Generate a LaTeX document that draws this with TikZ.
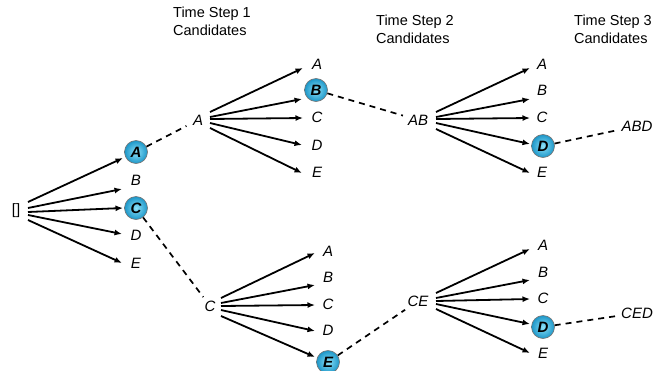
\documentclass[tikz,border=0pt]{standalone}
\usepackage{fontspec}
\setmainfont{Liberation Sans}
\usetikzlibrary{arrows.meta}
\definecolor{pickin}{RGB}{140,225,248}
\definecolor{pickout}{RGB}{28,150,200}
\tikzset{
  cand/.style={inner sep=1pt,font=\fontsize{15}{17}\selectfont\itshape},
  pick/.style={circle,draw=black!55,line width=0.6pt,inner color=pickin,outer color=pickout,
               minimum size=23pt,inner sep=0pt,font=\fontsize{15}{17}\selectfont\bfseries\itshape},
  hdr/.style={align=left,font=\fontsize{14.5}{18}\selectfont},
  fan/.style={-{Latex[length=7.5pt,width=6pt]},line width=1.8pt},
  trail/.style={line width=1.7pt,dash pattern=on 6pt off 5pt}
}

\begin{document}
\begin{tikzpicture}[x=1pt,y=-1pt]
   \useasboundingbox (0,0) rectangle (653,370);
   % headers
   \node[hdr] (h1) at (212,21) {Time Step 1\\Candidates};
   \node[hdr] (h2) at (415,29) {Time Step 2\\Candidates};
   \node[hdr] (h3) at (613,29) {Time Step 3\\Candidates};
   % root and first step
   \node[inner sep=1pt,font=\fontsize{15}{17}\selectfont] (r) at (16,211) {[]};
   \node[pick] (a1) at (136,152) {A};
   \node[cand] (b1) at (136,180) {B};
   \node[pick] (c1) at (136,208) {C};
   \node[cand] (d1) at (136,235) {D};
   \node[cand] (e1) at (136,263) {E};
   % upper branch
   \node[cand] (pA) at (198,120) {A};
   \node[cand] (a2) at (317,64) {A};
   \node[pick] (b2) at (316,90) {B};
   \node[cand] (c2) at (317,117) {C};
   \node[cand] (d2) at (317,145) {D};
   \node[cand] (e2) at (317,172) {E};
   \node[cand] (pAB) at (418,120) {AB};
   \node[cand] (a3) at (542,64) {A};
   \node[cand] (b3) at (542,90) {B};
   \node[cand] (c3) at (542,117) {C};
   \node[pick] (d3) at (543,146) {D};
   \node[cand] (e3) at (542,172) {E};
   \node[cand] (pABD) at (637,126) {ABD};
   % lower branch
   \node[cand] (pC) at (210,306) {C};
   \node[cand] (a4) at (328,251) {A};
   \node[cand] (b4) at (328,277) {B};
   \node[cand] (c4) at (328,304) {C};
   \node[cand] (d4) at (328,330) {D};
   \node[pick] (e4) at (328,362) {E};
   \node[cand] (pCE) at (418,301) {CE};
   \node[cand] (a5) at (543,245) {A};
   \node[cand] (b5) at (543,272) {B};
   \node[cand] (c5) at (543,298) {C};
   \node[pick] (d5) at (543,327) {D};
   \node[cand] (e5) at (543,353) {E};
   \node[cand] (pCED) at (637,313) {CED};
   % fans
   \path[fan] ([shift={(12,-9)}]r.center) edge ([shift={(-13,6)}]a1.center)
              ([shift={(12,-3)}]r.center) edge ([shift={(-14,9)}]b1.center)
              ([shift={(12,1)}]r.center) edge ([shift={(-13,0)}]c1.center)
              ([shift={(12,4)}]r.center) edge ([shift={(-14,-1)}]d1.center)
              ([shift={(12,9)}]r.center) edge ([shift={(-14,0)}]e1.center);
   \path[fan] ([shift={(12,-8)}]pA.center) edge ([shift={(-14,4)}]a2.center)
              ([shift={(12,-3)}]pA.center) edge ([shift={(-14,9)}]b2.center)
              ([shift={(12,-1)}]pA.center) edge ([shift={(-14,1)}]c2.center)
              ([shift={(12,3)}]pA.center) edge ([shift={(-15,0)}]d2.center)
              ([shift={(12,8)}]pA.center) edge ([shift={(-15,1)}]e2.center);
   \path[fan] ([shift={(18,-8)}]pAB.center) edge ([shift={(-12,4)}]a3.center)
              ([shift={(18,-3)}]pAB.center) edge ([shift={(-12,9)}]b3.center)
              ([shift={(18,-1)}]pAB.center) edge ([shift={(-12,1)}]c3.center)
              ([shift={(18,3)}]pAB.center) edge ([shift={(-13,-2)}]d3.center)
              ([shift={(18,9)}]pAB.center) edge ([shift={(-12,1)}]e3.center);
   \path[fan] ([shift={(11,-8)}]pC.center) edge ([shift={(-13,2)}]a4.center)
              ([shift={(11,-3)}]pC.center) edge ([shift={(-13,8)}]b4.center)
              ([shift={(11,0)}]pC.center) edge ([shift={(-13,1)}]c4.center)
              ([shift={(11,4)}]pC.center) edge ([shift={(-13,1)}]d4.center)
              ([shift={(11,10)}]pC.center) edge ([shift={(-13,-5)}]e4.center);
   \path[fan] ([shift={(18,-8)}]pCE.center) edge ([shift={(-13,4)}]a5.center)
              ([shift={(18,-3)}]pCE.center) edge ([shift={(-13,8)}]b5.center)
              ([shift={(18,0)}]pCE.center) edge ([shift={(-13,1)}]c5.center)
              ([shift={(18,3)}]pCE.center) edge ([shift={(-13,-3)}]d5.center)
              ([shift={(18,8)}]pCE.center) edge ([shift={(-13,0)}]e5.center);
   % chosen paths
   \path[trail] (a1) edge[shorten >=6pt] (pA)
                (b2) edge[shorten >=4pt] (pAB)
                (d3) edge[shorten >=3pt] (pABD)
                (c1) edge[shorten >=3pt] (pC)
                (e4) edge[shorten >=4pt] (pCE)
                (d5) edge[shorten >=3pt] (pCED);
\end{tikzpicture}
\end{document}
